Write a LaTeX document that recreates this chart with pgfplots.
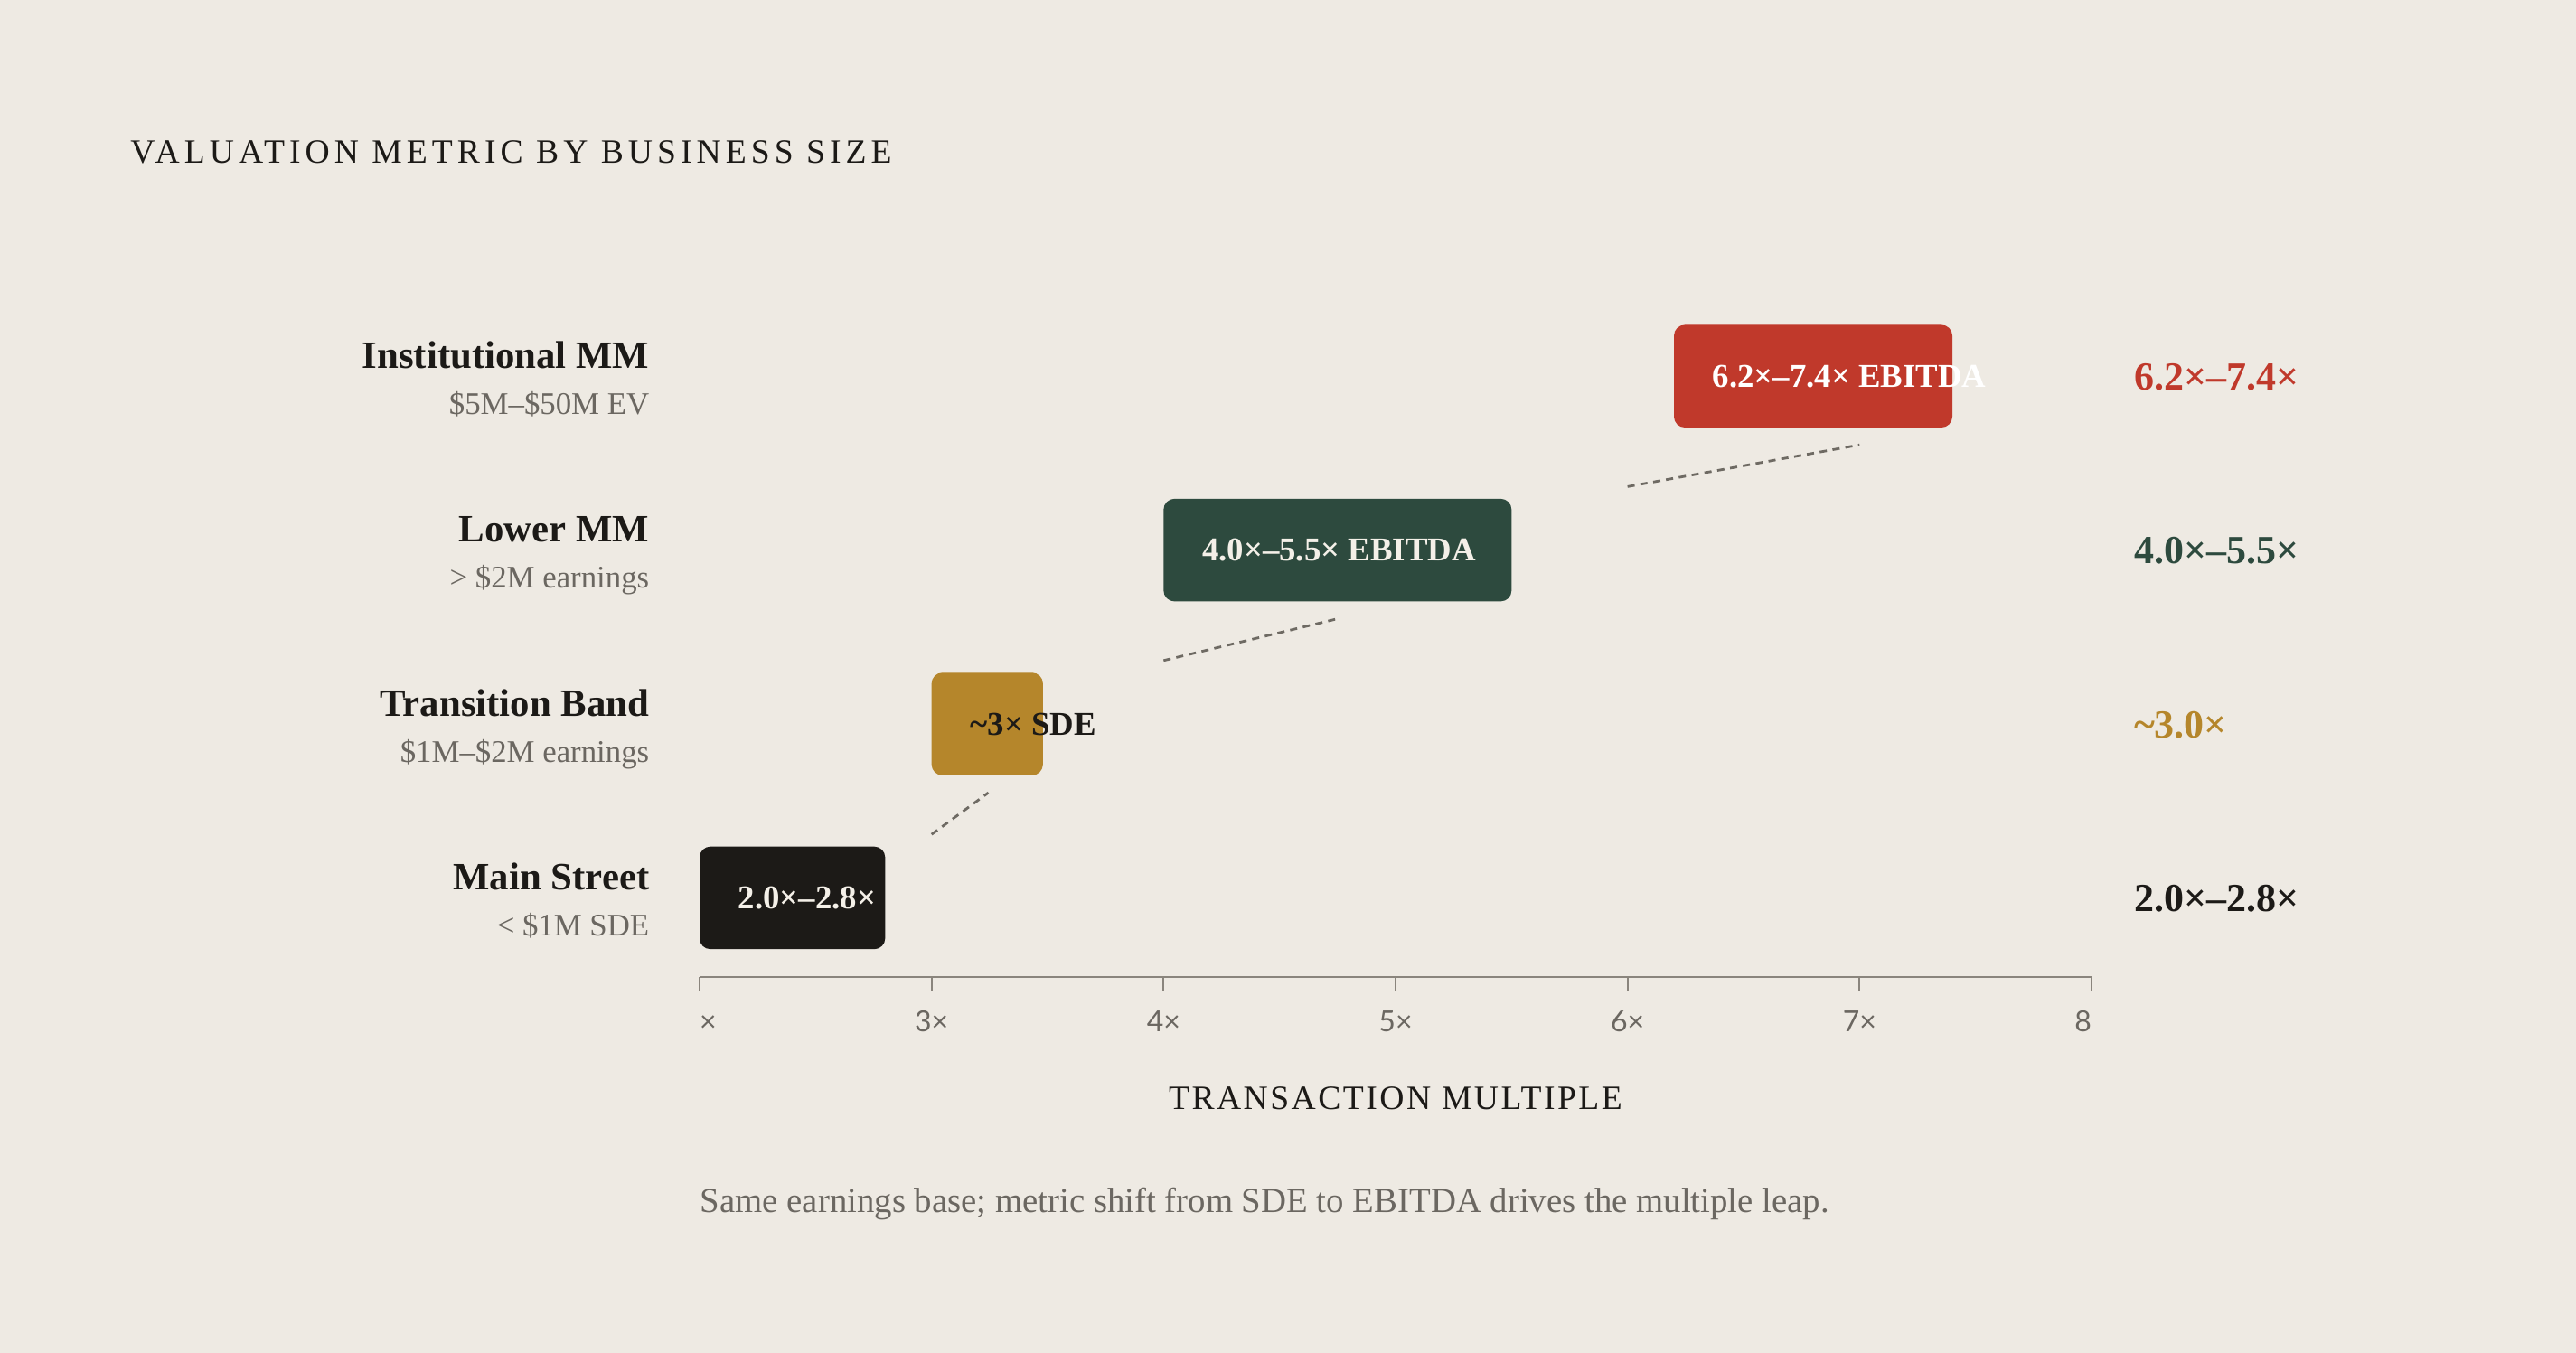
\documentclass[border=0pt]{standalone}
\usepackage{pgfplots}
\pgfplotsset{compat=1.18}
\usepackage{fontspec}
\setmainfont{Liberation Serif}
\newfontfamily\ticksans{Lato}

\definecolor{bg}{HTML}{EEEAE3}
\definecolor{ink}{HTML}{1C1A17}
\definecolor{paper}{HTML}{F4F0E8}
\definecolor{muted}{HTML}{6B6761}
\definecolor{axisgray}{HTML}{8A857D}
\definecolor{dashgray}{HTML}{6E6A63}
\definecolor{instred}{HTML}{C0392B}
\definecolor{lowgreen}{HTML}{2D4A3E}
\definecolor{bandgold}{HTML}{B5862B}

\begin{document}
\begin{tikzpicture}
\fill[bg] (0,0) rectangle (712.5pt,374.25pt);
\useasboundingbox (0,0) rectangle (712.5pt,374.25pt);

% title
\node[anchor=base west, inner sep=0pt, text=ink,
  font={\fontsize{9.4}{11}\selectfont\addfontfeatures{LetterSpace=13.4}}]
  at (35.9pt,329pt) {VALUATION METRIC BY BUSINESS SIZE};

\begin{axis}[
  at={(193.5pt,104pt)}, anchor=south west,
  scale only axis, width=385pt, height=195.05pt,
  xmin=2, xmax=8, ymin=-0.455, ymax=3.6,
  axis x line=bottom, axis y line=none,
  x axis line style={-, draw=axisgray, line width=0.5pt},
  xtick={2,3,4,5,6,7,8},
  xticklabels={\makebox[0pt][l]{×},3×,4×,5×,6×,7×,\makebox[0pt][r]{8}},
  tick align=outside, major tick length=3.8pt,
  every tick/.style={draw=axisgray, line width=0.45pt},
  xticklabel style={font=\ticksans\fontsize{8}{9}\selectfont, text=muted,
    anchor=base, inner sep=0pt, yshift=-11.3pt},
  clip=false,
]

% range bars (low, high) per band
\addplot[fill=ink, draw=none, rounded corners=3pt]
  coordinates {(2.0,-0.295) (2.8,-0.295) (2.8,0.295) (2.0,0.295)} -- cycle;
\addplot[fill=bandgold, draw=none, rounded corners=3pt]
  coordinates {(3.0,0.705) (3.48,0.705) (3.48,1.295) (3.0,1.295)} -- cycle;
\addplot[fill=lowgreen, draw=none, rounded corners=3pt]
  coordinates {(4.0,1.705) (5.5,1.705) (5.5,2.295) (4.0,2.295)} -- cycle;
\addplot[fill=instred, draw=none, rounded corners=3pt]
  coordinates {(6.2,2.705) (7.4,2.705) (7.4,3.295) (6.2,3.295)} -- cycle;

% dashed connectors
\addplot[dashgray, line width=0.7pt, dash pattern=on 2pt off 1.6pt]
  coordinates {(3.0,0.365) (3.245,0.605)};
\addplot[dashgray, line width=0.7pt, dash pattern=on 2pt off 1.6pt]
  coordinates {(4.0,1.365) (4.75,1.605)};
\addplot[dashgray, line width=0.7pt, dash pattern=on 2pt off 1.6pt]
  coordinates {(6.0,2.365) (7.0,2.605)};

% labels on bars
\begin{scope}[every node/.style={anchor=west, xshift=10.5pt, inner sep=0pt,
    font=\bfseries\fontsize{9.2}{11}\selectfont}]
  \node[text=paper] at (axis cs:2.0,0) {2.0×–2.8×};
  \node[text=ink] at (axis cs:3.0,1) {\textasciitilde3× SDE};
  \node[text=paper] at (axis cs:4.0,2) {4.0×–5.5× EBITDA};
  \node[text=white] at (axis cs:6.2,3) {6.2×–7.4× EBITDA};
\end{scope}

% right-hand summary
\begin{scope}[every node/.style={anchor=west, inner sep=0pt,
    font=\bfseries\fontsize{11}{13}\selectfont}]
  \node[text=ink] at (axis cs:8.18,-0.005) {2.0×–2.8×};
  \node[text=bandgold] at (axis cs:8.18,0.995) {\textasciitilde3.0×};
  \node[text=lowgreen] at (axis cs:8.18,1.995) {4.0×–5.5×};
  \node[text=instred] at (axis cs:8.18,2.995) {6.2×–7.4×};
\end{scope}

% row labels
\begin{scope}[every node/.style={anchor=base east, inner sep=0pt}]
  \node[text=ink, font=\bfseries\fontsize{10.7}{12}\selectfont] at (axis cs:1.786,3.045) {Institutional MM};
  \node[text=muted, font=\fontsize{8.7}{10}\selectfont] at (axis cs:1.786,2.78) {\$5M–\$50M EV};
  \node[text=ink, font=\bfseries\fontsize{10.7}{12}\selectfont] at (axis cs:1.786,2.045) {Lower MM};
  \node[text=muted, font=\fontsize{8.7}{10}\selectfont] at (axis cs:1.786,1.78) {> \$2M earnings};
  \node[text=ink, font=\bfseries\fontsize{10.7}{12}\selectfont] at (axis cs:1.786,1.045) {Transition Band};
  \node[text=muted, font=\fontsize{8.7}{10}\selectfont] at (axis cs:1.786,0.78) {\$1M–\$2M earnings};
  \node[text=ink, font=\bfseries\fontsize{10.7}{12}\selectfont] at (axis cs:1.786,0.045) {Main Street};
  \node[text=muted, font=\fontsize{8.7}{10}\selectfont] at (axis cs:1.786,-0.22) {< \$1M SDE};
\end{scope}

% axis title and note
\node[anchor=base, inner sep=0pt, text=ink,
  font={\fontsize{9.4}{11}\selectfont\addfontfeatures{LetterSpace=6.6}}]
  at (axis cs:5,-1.215) {TRANSACTION MULTIPLE};
\node[anchor=base west, inner sep=0pt, text=muted, font=\fontsize{9.7}{11}\selectfont]
  at (axis cs:2,-1.81) {Same earnings base; metric shift from SDE to EBITDA drives the multiple leap.};
\end{axis}
\end{tikzpicture}
\end{document}
